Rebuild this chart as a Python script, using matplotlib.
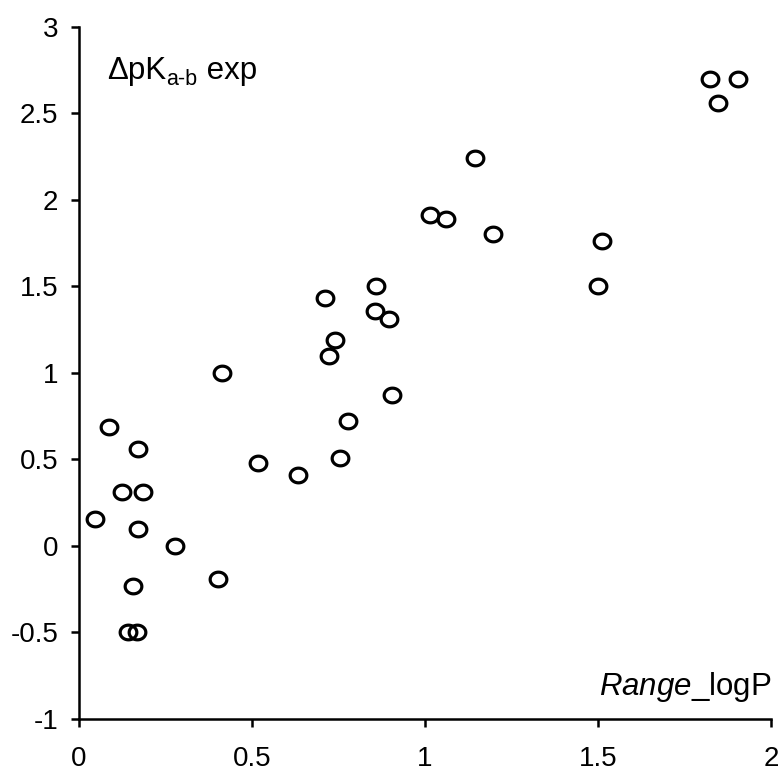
import matplotlib
matplotlib.use("Agg")
import matplotlib.pyplot as plt
import numpy as np
from matplotlib.path import Path

plt.rcParams['font.family'] = ['Liberation Sans', 'DejaVu Sans']
plt.rcParams['axes.unicode_minus'] = False
plt.rcParams['mathtext.fontset'] = 'custom'
plt.rcParams['mathtext.rm'] = 'Liberation Sans'
plt.rcParams['mathtext.it'] = 'Liberation Sans:italic'

# Data: Range_logP (x) vs delta pKa-b exp (y)
range_logp = [0.088, 0.171, 0.518, 0.634, 0.123, 0.186, 0.046, 0.171, 0.277,
              0.403, 0.155, 0.142, 0.167, 0.413,
              0.711, 0.858, 0.855, 0.897, 0.740, 0.723, 0.904, 0.778, 0.754,
              1.145, 1.014, 1.061, 1.196,
              1.824, 1.906, 1.848, 1.511, 1.501]
dpka_exp = [0.69, 0.56, 0.48, 0.41, 0.31, 0.31, 0.155, 0.10, 0.0,
            -0.19, -0.23, -0.50, -0.50, 1.0,
            1.43, 1.50, 1.36, 1.31, 1.19, 1.10, 0.87, 0.72, 0.51,
            2.24, 1.91, 1.89, 1.80,
            2.70, 2.70, 2.56, 1.76, 1.50]

xticks = [0, 0.5, 1, 1.5, 2]
xticklabels = ['0', '0.5', '1', '1.5', '2']
yticks = [-1, -0.5, 0, 0.5, 1, 1.5, 2, 2.5, 3]
yticklabels = ['-1', '-0.5', '0', '0.5', '1', '1.5', '2', '2.5', '3']

fig = plt.figure(figsize=(7.79, 7.75), dpi=100)
ax = fig.add_axes([79/779, (775-719)/775, 692/779, (719-26.7)/775])

# slightly elliptical open marker
t = np.linspace(0, 2*np.pi, 60)
ell = Path(np.column_stack([np.cos(t), 0.88*np.sin(t)]), closed=True)

ax.plot(range_logp, dpka_exp, linestyle='none', marker=ell, markersize=12,
        markerfacecolor='none', markeredgecolor='black', markeredgewidth=2.3)

ax.set_xlim(0, 2)
ax.set_ylim(-1, 3)
ax.set_xticks(xticks)
ax.set_xticklabels(xticklabels)
ax.set_yticks(yticks)
ax.set_yticklabels(yticklabels)

for s in ['top', 'right']:
    ax.spines[s].set_visible(False)
for s in ['left', 'bottom']:
    ax.spines[s].set_linewidth(1.8)
ax.tick_params(axis='both', direction='out', length=6, width=1.8, labelsize=20)
ax.tick_params(axis='x', pad=13.5)
ax.tick_params(axis='y', pad=9)

# top-left label: ΔpK(a-b) exp
fs = 22.5
t1 = ax.text(0.041, 0.924, 'ΔpK', transform=ax.transAxes, fontsize=fs,
             ha='left', va='baseline')
t2 = ax.annotate('a-b', xy=(1, 0), xycoords=t1, xytext=(0.0, -3.0),
                 textcoords='offset points', fontsize=15.5, ha='left', va='bottom')
t3 = ax.annotate(' exp', xy=(1, 0), xycoords=t2, xytext=(0, 3.0),
                 textcoords='offset points', fontsize=fs, ha='left', va='bottom')

# bottom-right label: Range_logP
ax.text(1.0, 0.0347, r'$\it{Range}$_logP', transform=ax.transAxes,
        fontsize=fs, ha='right', va='baseline')

fig.savefig('out.png', dpi=100)
